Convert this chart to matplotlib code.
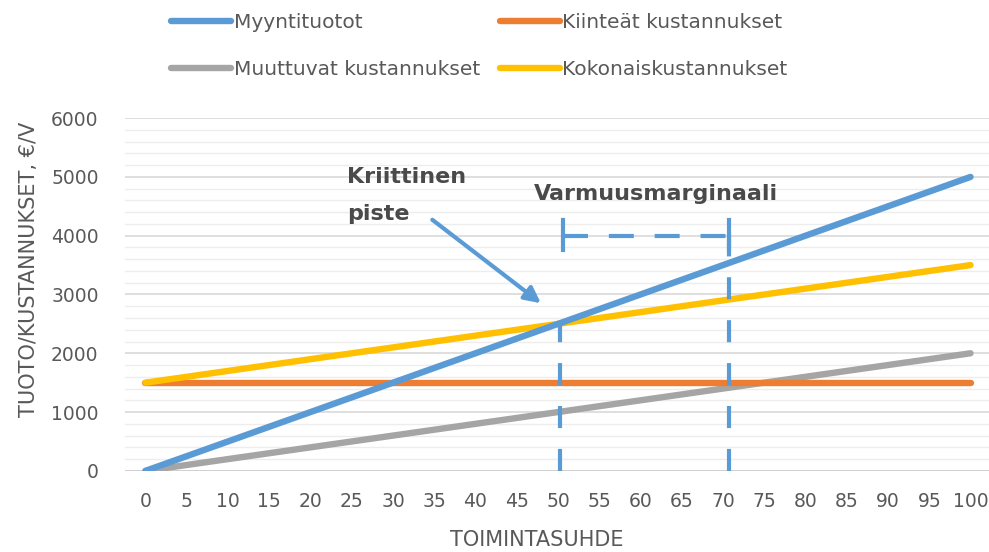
import matplotlib
matplotlib.use("Agg")
import matplotlib.pyplot as plt
from matplotlib.ticker import MultipleLocator

# data
toimintasuhde = [0, 5, 10, 15, 20, 25, 30, 35, 40, 45, 50, 55, 60, 65, 70, 75, 80, 85, 90, 95, 100]
myyntituotot = [0, 250, 500, 750, 1000, 1250, 1500, 1750, 2000, 2250, 2500, 2750, 3000, 3250, 3500, 3750, 4000, 4250, 4500, 4750, 5000]
kiinteat = [1500] * 21
muuttuvat = [0, 100, 200, 300, 400, 500, 600, 700, 800, 900, 1000, 1100, 1200, 1300, 1400, 1500, 1600, 1700, 1800, 1900, 2000]
kokonais = [1500, 1600, 1700, 1800, 1900, 2000, 2100, 2200, 2300, 2400, 2500, 2600, 2700, 2800, 2900, 3000, 3100, 3200, 3300, 3400, 3500]

kriittinen_x, kriittinen_y = 50, 2500
turva_x = 70.7
marginaali_y = 4000

blue = '#5B9BD5'
orange = '#ED7D31'
gray = '#A5A5A5'
yellow = '#FFC000'
txt = '#595959'
dark = '#4A4A4A'

fig = plt.figure(figsize=(9.89, 5.52), dpi=100)
ax = fig.add_axes([0.1264, 0.147, 0.8736, 0.639])

lw = 4.6
l1, = ax.plot(toimintasuhde, myyntituotot, color=blue, lw=lw, solid_capstyle='round', zorder=4)
l2, = ax.plot(toimintasuhde, kiinteat, color=orange, lw=lw, solid_capstyle='round', zorder=3)
l3, = ax.plot(toimintasuhde, muuttuvat, color=gray, lw=lw, solid_capstyle='round', zorder=2)
l4, = ax.plot(toimintasuhde, kokonais, color=yellow, lw=lw, solid_capstyle='round', zorder=3)

ax.set_xlim(-2.48, 102.24)
ax.set_ylim(0, 6000)
ax.set_xticks(toimintasuhde)
ax.yaxis.set_major_locator(MultipleLocator(1000))
ax.yaxis.set_minor_locator(MultipleLocator(200))
ax.grid(which='major', axis='y', color='#D9D9D9', lw=1.2)
ax.grid(which='minor', axis='y', color='#EDEDED', lw=1.0)
ax.set_axisbelow(True)
for s in ax.spines.values():
    s.set_visible(False)
ax.axhline(0, color='#D0D0D0', lw=1.4, zorder=1)
ax.tick_params(which='both', length=0, labelsize=13.5, labelcolor=txt)
ax.tick_params(axis='y', pad=19)
ax.tick_params(axis='x', pad=15)
ax.set_xlabel('TOIMINTASUHDE', fontsize=15, color=txt)
ax.xaxis.set_label_coords(0.476, -0.168)
ax.set_ylabel('TUOTO/KUSTANNUKSET, €/V', fontsize=15, color=txt)
ax.yaxis.set_label_coords(-0.1, 0.572)

# safety margin markers
dash = dict(color=blue, lw=3, ls=(0, (5.3, 5.0)), zorder=5)
ax.plot([50.2, 50.2], [0, kriittinen_y], **dash)
ax.plot([turva_x, turva_x], [0, 4270], **dash)
ax.plot([50.6, 50.6], [3757, 4267], color=blue, lw=3, zorder=5)
ax.plot([turva_x, turva_x], [3757, 4267], color=blue, lw=3, zorder=5)
ax.plot([50.6, turva_x], [marginaali_y, marginaali_y], color=blue, lw=3,
        ls=(0, (6.0, 5.0)), zorder=5)

ax.text(24.4, 4898, 'Kriittinen', fontsize=16, color=dark, weight='bold', va='baseline')
ax.text(24.4, 4269, 'piste', fontsize=16, color=dark, weight='bold', va='baseline')
ax.text(61.9, 4609, 'Varmuusmarginaali', fontsize=16, color=dark, weight='bold',
        ha='center', va='baseline')
ax.annotate('', xy=(48.2, 2822), xytext=(34.5, 4300),
            arrowprops=dict(arrowstyle='-|>', color=blue, lw=3, mutation_scale=24))

# ncol=2 fills column by column
fig.legend([l1, l3, l2, l4],
           ['Myyntituotot', 'Muuttuvat kustannukset', 'Kiinteät kustannukset', 'Kokonaiskustannukset'],
           frameon=False, ncol=2, fontsize=14.5, handlelength=3.0, handletextpad=0.1,
           borderpad=0, labelspacing=1.4, columnspacing=1.0, labelcolor=txt,
           loc='center left', bbox_to_anchor=(161 / 989, 0.916))

fig.savefig('out.png', dpi=100)
